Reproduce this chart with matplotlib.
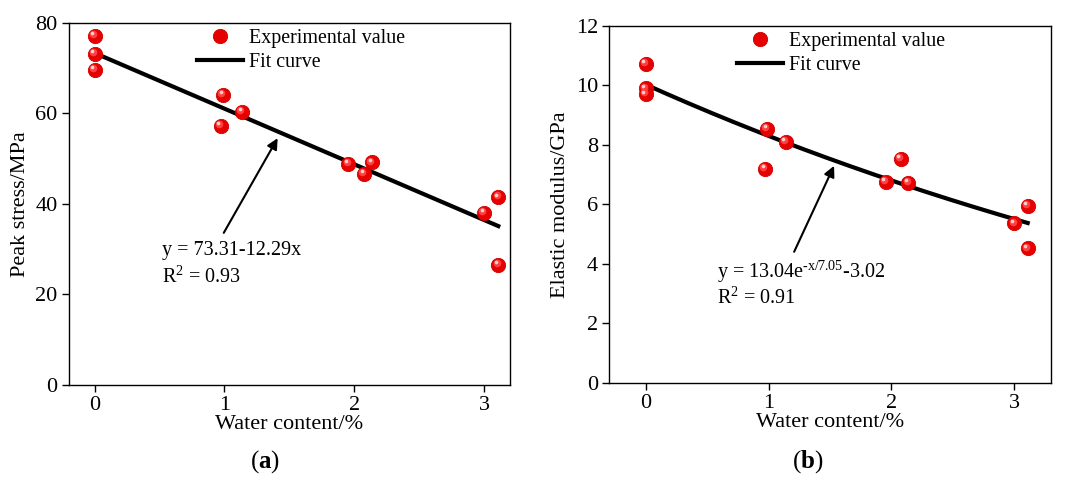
import numpy as np
import matplotlib
matplotlib.use("Agg")
import matplotlib.pyplot as plt
from matplotlib.transforms import offset_copy

plt.rcParams['font.family'] = ['Liberation Serif', 'DejaVu Serif']
plt.rcParams['mathtext.fontset'] = 'custom'
plt.rcParams['mathtext.rm'] = 'Liberation Serif'
plt.rcParams['mathtext.it'] = 'Liberation Serif:italic'
plt.rcParams['mathtext.bf'] = 'Liberation Serif:bold'

# ---- data ----
water_a = [0, 0, 0, 0.99, 0.97, 1.136, 1.955, 2.076, 2.138, 3.0, 3.11, 3.11]
peak_stress = [77.1, 73.1, 69.6, 64.1, 57.2, 60.3, 48.9, 46.7, 49.2, 38.0, 41.5, 26.5]
water_b = [0, 0, 0, 0.988, 0.972, 1.138, 1.955, 2.077, 2.137, 3.0, 3.109, 3.11]
elastic_mod = [10.72, 9.89, 9.70, 8.54, 7.20, 8.10, 6.76, 7.53, 6.72, 5.36, 5.94, 4.52]

lin_a, lin_b = 73.31, 12.29          # y = a - b x
exp_A, exp_t, exp_c = 13.04, 7.05, 3.02  # y = A e^{-x/t} - c
fit_range = (0.0, 3.11)

xticks = [0, 1, 2, 3]

fig = plt.figure(figsize=(10.68, 4.78), dpi=100)
ax1 = fig.add_axes([0.0643, 0.1946, 0.4132, 0.7579])
ax2 = fig.add_axes([0.5702, 0.1994, 0.4139, 0.7468])


def spheres(ax, x, y):
    ax.plot(x, y, 'o', ms=10.3, color='#e60000', mec='#d00000', mew=0.6,
            zorder=4, label='Experimental value')
    t1 = offset_copy(ax.transData, fig=fig, x=-1.2, y=1.2, units='points')
    ax.plot(x, y, 'o', ms=5.5, color='#ff4040', mew=0, transform=t1, zorder=5)
    t2 = offset_copy(ax.transData, fig=fig, x=-1.8, y=1.8, units='points')
    ax.plot(x, y, 'o', ms=2.6, color='#ffd0d0', mew=0, transform=t2, zorder=6)


def style(ax):
    for s in ax.spines.values():
        s.set_linewidth(1.0)
    ax.tick_params(direction='out', length=5, width=1, labelsize=16,
                   top=False, right=False, pad=3)
    ax.set_xticks(xticks)


xf = np.linspace(fit_range[0], fit_range[1], 200)

leg_kw = dict(loc='upper left', frameon=False, fontsize=14.4, borderpad=0,
              borderaxespad=0, handlelength=2.3, handletextpad=0.3,
              labelspacing=0.28)

# ---- (a) ----
spheres(ax1, water_a, peak_stress)
ax1.plot(xf, lin_a - lin_b * xf, color='k', lw=3, zorder=3, label='Fit curve')
ax1.set_xlim(-0.2, 3.2)
ax1.set_ylim(0, 80)
ax1.set_yticks([0, 20, 40, 60, 80])
style(ax1)
ax1.set_xlabel('Water content/%', fontsize=16, labelpad=0)
ax1.set_ylabel('Peak stress/MPa', fontsize=16, labelpad=4)
ax1.legend(bbox_to_anchor=(0.29, 0.983), **leg_kw)
ax1.annotate('', xy=(1.41, 54.5), xytext=(0.995, 33.6),
             arrowprops=dict(arrowstyle='-|>', lw=1.5, color='k',
                             mutation_scale=16, shrinkA=0, shrinkB=0))
ax1.text(0.517, 29.8, 'y = 73.31-12.29x', fontsize=14.5, va='center', ha='left')
ax1.text(0.517, 23.8, r'R$^2$ = 0.93', fontsize=14.5, va='center', ha='left')

# ---- (b) ----
spheres(ax2, water_b, elastic_mod)
ax2.plot(xf, exp_A * np.exp(-xf / exp_t) - exp_c, color='k', lw=3, zorder=3,
         label='Fit curve')
ax2.set_xlim(-0.3, 3.3)
ax2.set_ylim(0, 12)
ax2.set_yticks([0, 2, 4, 6, 8, 10, 12])
style(ax2)
ax2.set_xlabel('Water content/%', fontsize=16, labelpad=0)
ax2.set_ylabel('Elastic modulus/GPa', fontsize=16, labelpad=4)
ax2.legend(bbox_to_anchor=(0.289, 0.983), **leg_kw)
ax2.annotate('', xy=(1.533, 7.29), xytext=(1.208, 4.40),
             arrowprops=dict(arrowstyle='-|>', lw=1.5, color='k',
                             mutation_scale=16, shrinkA=0, shrinkB=0))
ax2.text(0.583, 3.73, r'y = 13.04e$^{\text{-x/7.05}}$-3.02', fontsize=14.5,
         va='center', ha='left')
ax2.text(0.583, 2.84, r'R$^2$ = 0.91', fontsize=14.5, va='center', ha='left')

fig.text(265 / 1068, 1 - 462 / 478, r'($\mathbf{a}$)', fontsize=18,
         ha='center', va='center')
fig.text(808 / 1068, 1 - 462 / 478, r'($\mathbf{b}$)', fontsize=18,
         ha='center', va='center')

fig.savefig('out.png', dpi=100)
